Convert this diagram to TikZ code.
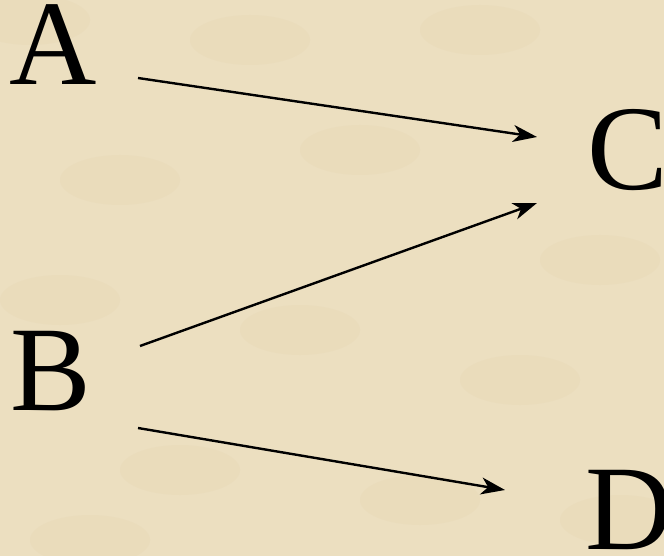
\documentclass[tikz,border=0pt]{standalone}
\usepackage{fontspec}
\setmainfont{Liberation Serif}
\usetikzlibrary{arrows.meta,calc}
\definecolor{parch}{RGB}{236,223,192}
\definecolor{parchdark}{RGB}{226,208,170}
\tikzset{
  letter/.style={inner sep=0pt, anchor=base west, font=\fontsize{121}{121}\selectfont},
  arr/.style={line width=2.4pt, -{Stealth[length=24pt,width=17pt,inset=7pt]}}
}
\begin{document}
\begin{tikzpicture}[x=1pt,y=-1pt]
\useasboundingbox (0,0) rectangle (664,556);
\fill[parch] (0,0) rectangle (664,556);
\foreach \px/\py in {30/20,250/40,480/30,120/180,360/150,600/260,60/300,300/330,520/380,180/470,420/500,620/520,90/540}{
  \fill[parchdark,opacity=0.2] (\px,\py) ellipse (60 and 25);
}
\node[letter] (A) at (9,85) {A};
\node[letter] (C) at (587,190) {C};
\node[letter] (B) at (10,410) {B};
\node[letter] (D) at (585,549) {D};
\coordinate (aout) at (138,78);
\coordinate (cin1) at (537,137);
\coordinate (bout1) at (140,346);
\coordinate (cin2) at (537,203);
\coordinate (bout2) at (138,428);
\coordinate (din) at (505,490);
\draw[arr] (aout) -- (cin1);
\draw[arr] (bout1) -- (cin2);
\draw[arr] (bout2) -- (din);
\end{tikzpicture}
\end{document}
